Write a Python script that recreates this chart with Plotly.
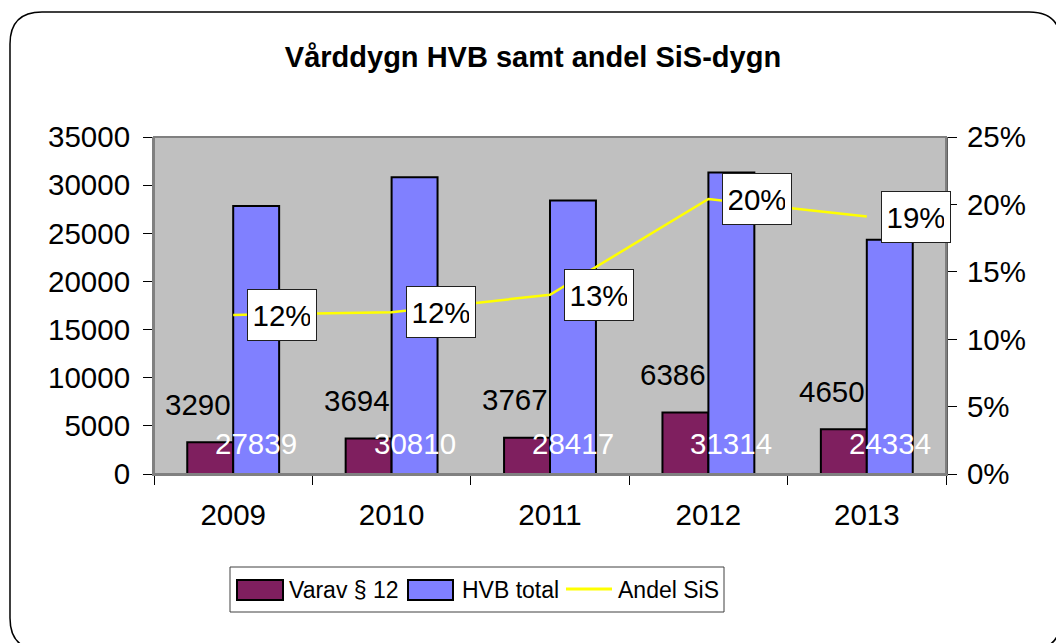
import plotly.graph_objects as go

# ---- data ----
years = ["2009", "2010", "2011", "2012", "2013"]
varav = [3290, 3694, 3767, 6386, 4650]
hvb = [27839, 30810, 28417, 31314, 24334]
andel = [0.118, 0.120, 0.133, 0.204, 0.191]
left_ticks = [0, 5000, 10000, 15000, 20000, 25000, 30000, 35000]
right_ticks = [0, 0.05, 0.10, 0.15, 0.20, 0.25]
series_names = ["Varav § 12", "HVB total", "Andel SiS"]
title_text = "Vårddygn HVB samt andel SiS-dygn"

# ---- styles ----
MAROON = "#7F1F5F"
BLUE = "#8080FF"
YELLOW = "#FFFF00"
FONT = "Liberation Sans, Arial, sans-serif"
FS = 29.5

W, H = 1056, 643
L, R, T, B = 154, 946, 137, 474


def px(x):
    return (x - L) / (R - L)


def py(y):
    return (B - y) / (B - T)


fig = go.Figure()
fig.add_trace(go.Bar(x=years, y=varav, name=series_names[0],
                     marker=dict(color=MAROON, line=dict(color="black", width=2)),
                     showlegend=False))
fig.add_trace(go.Bar(x=years, y=hvb, name=series_names[1],
                     marker=dict(color=BLUE, line=dict(color="black", width=2)),
                     showlegend=False))
fig.add_trace(go.Scatter(x=years, y=andel, name=series_names[2], yaxis="y2",
                         mode="lines", line=dict(color=YELLOW, width=2.5),
                         showlegend=False))

annotations = []
for i, v in enumerate(varav):
    annotations.append(dict(x=i, y=v, xref="x", yref="y", text=str(v),
                            showarrow=False, xshift=-35, yshift=38,
                            yanchor="middle", font=dict(size=FS, color="black")))
for i, v in enumerate(hvb):
    annotations.append(dict(x=i, y=0, xref="x", yref="y", text=str(v),
                            showarrow=False, xshift=23, yshift=31,
                            yanchor="middle", font=dict(size=FS, color="white")))
for i, v in enumerate(andel):
    annotations.append(dict(x=i, y=v, xref="x", yref="y2", text=f"{round(v*100)}%",
                            showarrow=False, xshift=49, yanchor="middle",
                            width=56, height=38,
                            bgcolor="white", bordercolor="#202020", borderwidth=1,
                            borderpad=6, font=dict(size=FS, color="black")))

shapes = []
# outer rounded border
lft, top, rgt, bot, r = 10, 12, 1061, 650, 32
pts = [("M", lft + r, top), ("L", rgt - r, top), ("Q", rgt, top, rgt, top + r),
       ("L", rgt, bot - r), ("Q", rgt, bot, rgt - r, bot), ("L", lft + r, bot),
       ("Q", lft, bot, lft, bot - r), ("L", lft, top + r), ("Q", lft, top, lft + r, top)]
path = ""
for p in pts:
    cmd = p[0]
    coords = p[1:]
    s = []
    for k in range(0, len(coords), 2):
        s.append(f"{px(coords[k]):.5f},{py(coords[k+1]):.5f}")
    path += cmd + " ".join(s) + " "
path += "Z"
shapes.append(dict(type="path", xref="paper", yref="paper", path=path,
                   line=dict(color="black", width=1.5), layer="below"))
# plot area frame
shapes.append(dict(type="rect", xref="paper", yref="paper", x0=0, x1=1, y0=0, y1=1,
                   line=dict(color="#808080", width=2), layer="above"))
# custom legend
shapes.append(dict(type="rect", xref="paper", yref="paper", x0=px(230), x1=px(724),
                   y0=py(612), y1=py(567), line=dict(color="#404040", width=1),
                   fillcolor="white"))
shapes.append(dict(type="rect", xref="paper", yref="paper", x0=px(237), x1=px(283),
                   y0=py(600), y1=py(580), line=dict(color="black", width=2),
                   fillcolor=MAROON))
shapes.append(dict(type="rect", xref="paper", yref="paper", x0=px(408), x1=px(453),
                   y0=py(600), y1=py(580), line=dict(color="black", width=2),
                   fillcolor=BLUE))
shapes.append(dict(type="line", xref="paper", yref="paper", x0=px(566), x1=px(612),
                   y0=py(589), y1=py(589), line=dict(color=YELLOW, width=3)))
LEG_FONT = dict(size=23, color="black", family=FONT)
for name, xl in zip(series_names, [287, 460, 616]):
    annotations.append(dict(x=px(xl), y=py(590), xref="paper", yref="paper", text=name,
                            showarrow=False, xanchor="left", yanchor="middle",
                            font=LEG_FONT))

fig.update_layout(
    width=W, height=H,
    margin=dict(l=L, r=W - R, t=T, b=H - B, pad=0),
    paper_bgcolor="white", plot_bgcolor="#C0C0C0",
    font=dict(family=FONT, size=FS, color="black"),
    barmode="group", bargap=0.42, bargroupgap=0,
    title=dict(text=f"<b>{title_text}</b>", xref="container", yref="container",
               x=533 / W, y=1 - 57 / H, xanchor="center", yanchor="middle",
               font=dict(size=29, family=FONT, color="black")),
    xaxis=dict(type="category", range=[-0.5, 4.5], tickson="boundaries",
               ticks="outside", ticklen=9, tickcolor="black", tickwidth=1,
               showline=True, linecolor="#808080", linewidth=2, showgrid=False,
               tickfont=dict(size=FS), ticklabelstandoff=14),
    yaxis=dict(range=[0, 35000], tickvals=left_ticks, tickformat="d",
               ticks="outside", ticklen=9, tickcolor="black", showgrid=False,
               zeroline=False, showline=True, linecolor="#808080", linewidth=2,
               tickfont=dict(size=FS), ticklabelstandoff=7),
    yaxis2=dict(range=[0, 0.25], tickvals=right_ticks, tickformat=".0%",
                overlaying="y", side="right", ticks="outside", ticklen=9,
                tickcolor="black", showgrid=False, zeroline=False, showline=True,
                linecolor="#606060", linewidth=2, tickfont=dict(size=FS),
                ticklabelstandoff=4),
    annotations=annotations,
    shapes=shapes,
)

fig.write_html("out.html", config={"displayModeBar": False},
               post_script="document.body.style.margin='0';document.body.style.overflow='hidden';")
